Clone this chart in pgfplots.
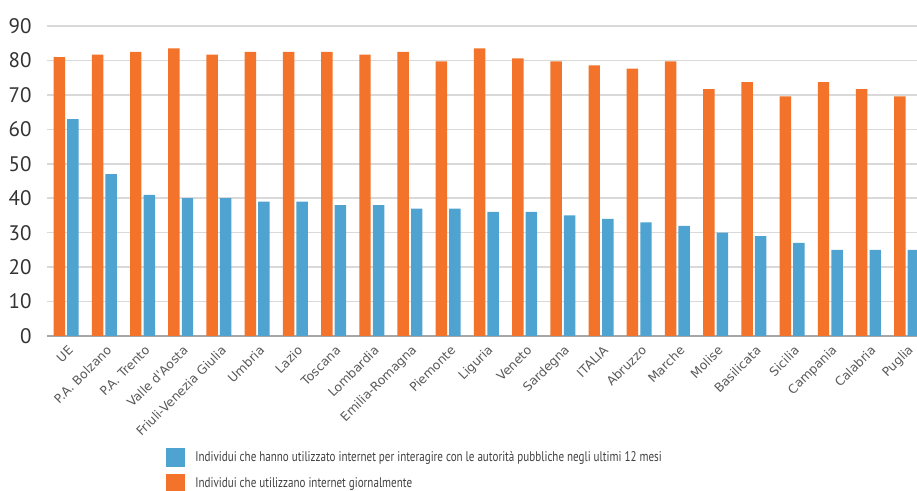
\documentclass[border=0pt]{standalone}
\usepackage{pgfplots}
\pgfplotsset{compat=1.18}
\usepackage{fontspec}
\setmainfont{PT Sans}
\newfontfamily\legfont[FakeStretch=0.79]{PT Sans}
\newfontfamily\catfont{DejaVu Sans}
\definecolor{cOrange}{HTML}{F3732A}
\definecolor{cBlue}{HTML}{4FA3D0}
\definecolor{cGrid}{HTML}{D9D9D9}
\definecolor{cAxis}{HTML}{A6A6A6}
\definecolor{cTick}{HTML}{333333}
\definecolor{cCat}{HTML}{595959}
\definecolor{cLeg}{HTML}{404040}
\begin{document}
\begin{tikzpicture}
\useasboundingbox (0,0) rectangle (458.5pt,245.5pt);
\begin{axis}[
  at={(23.5pt,77.5pt)}, anchor=south west,
  scale only axis, width=435pt, height=155pt,
  xmin=-0.5, xmax=22.27, ymin=0, ymax=90,
  axis x line*=bottom, axis y line*=left,
  x axis line style={draw=cAxis, line width=0.8pt, -},
  y axis line style={draw=none},
  major tick length=0pt,
  ytick={0,10,...,90},
  ymajorgrids, grid style={draw=cGrid, line width=0.75pt},
  xtick={0,...,22},
  xticklabels={UE,P.A. Bolzano,P.A. Trento,Valle d'Aosta,Friuli-Venezia Giulia,Umbria,Lazio,Toscana,Lombardia,Emilia-Romagna,Piemonte,Liguria,Veneto,Sardegna,ITALIA,Abruzzo,Marche,Molise,Basilicata,Sicilia,Campania,Calabria,Puglia},
  xticklabel style={font=\catfont\fontsize{6.2}{7}\selectfont, text=cCat, xshift=2.5pt, yshift=-6pt, rotate=45, anchor=east, inner sep=0pt},
  yticklabel style={font=\fontsize{10.5}{12}\selectfont, text=cTick, anchor=east, inner sep=0pt, xshift=-7.5pt},
  /pgf/number format/assume math mode=true,
  legend style={draw=none, fill=none, at={(0.1368,-0.358)}, anchor=north west, inner sep=0pt, font=\legfont\fontsize{7}{8}\selectfont, text=cLeg, row sep=2.5pt, /tikz/every even column/.append style={column sep=0pt}},
  legend cell align=left,
  legend image code/.code={\fill[#1] (0pt,-4.75pt) rectangle (9.5pt,4.75pt);},
  clip=true,
]
\addplot[ybar, bar width=0.3, bar shift=0.177, fill=cBlue, draw=none] coordinates {
(0,63) (1,47) (2,41) (3,40) (4,40) (5,39) (6,39) (7,38) (8,38) (9,37) (10,37) (11,36) (12,36) (13,35) (14,34) (15,33) (16,32) (17,30) (18,29) (19,27) (20,25) (21,25) (22,25)};
\addlegendentry{\hspace{3pt}Individui che hanno utilizzato internet per interagire con le autorità pubbliche negli ultimi 12 mesi}
\addplot[ybar, bar width=0.3, bar shift=-0.177, fill=cOrange, draw=none] coordinates {
(0,81) (1,81.7) (2,82.5) (3,83.5) (4,81.7) (5,82.5) (6,82.5) (7,82.5) (8,81.7) (9,82.5) (10,79.7) (11,83.5) (12,80.6) (13,79.7) (14,78.6) (15,77.6) (16,79.7) (17,71.7) (18,73.7) (19,69.6) (20,73.7) (21,71.7) (22,69.6)};
\addlegendentry{\hspace{3pt}Individui che utilizzano internet giornalmente}
\end{axis}
\end{tikzpicture}
\end{document}
